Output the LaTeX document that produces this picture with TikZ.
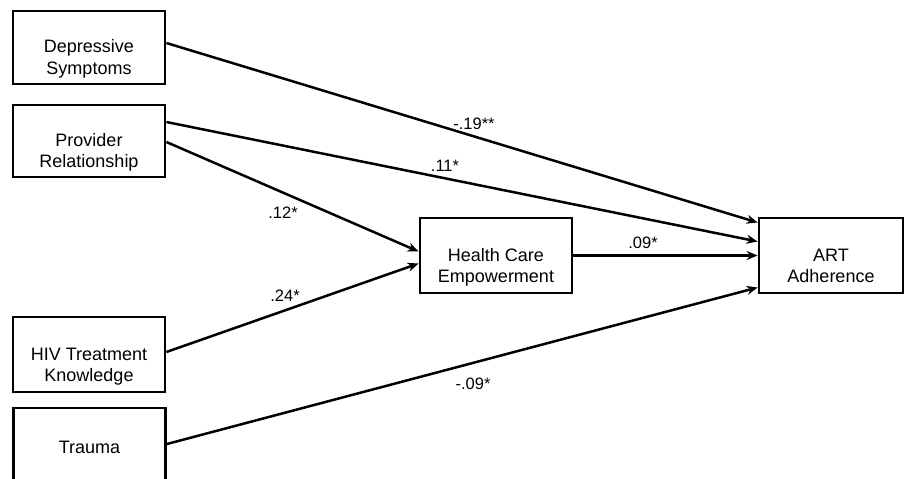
\documentclass[tikz,border=0pt]{standalone}
\usepackage{fontspec}
\setmainfont{Liberation Sans}
\usetikzlibrary{arrows.meta,positioning}

\begin{document}
\begin{tikzpicture}[
    x=1pt, y=-1pt,
    every node/.style={font=\fontsize{18}{21}\selectfont},
    box/.style={rectangle, draw, line width=2.8pt, align=center, minimum width=152pt, minimum height=74pt, inner sep=0pt},
    twoline/.style={text height=53pt, text depth=0pt},
    arrow/.style={-{Stealth[length=11pt,width=9pt]}, line width=2.5pt},
    coef/.style={inner sep=1pt, font=\fontsize{16.5}{18}\selectfont}
]
\useasboundingbox (0,0) rectangle (906,479);

% Predictors
\node[box, twoline, minimum height=73pt] (depress) at (89,47.5) {Depressive\\Symptoms};
\node[box, twoline, minimum height=72pt] (provider) at (89,141) {Provider\\Relationship};
\node[box, twoline, minimum height=75pt] (knowledge) at (89,354.5) {HIV Treatment\\Knowledge};
\node[box, minimum height=78pt] (trauma) at (89.5,447) {Trauma};

% Mediator and outcome
\node[box, twoline, minimum height=75pt] (empower) at (496,255.5) {Health Care\\Empowerment};
\node[box, twoline, minimum width=144pt, minimum height=75pt] (adherence) at (831,255.5) {ART\\Adherence};

% Paths
\draw[arrow] ([yshift=4.5pt]depress.east) -- ([yshift=33pt]adherence.west);
\draw[arrow] ([yshift=19pt]provider.east) -- ([yshift=14pt]adherence.west);
\draw[arrow] ([yshift=-1pt]provider.east) -- ([yshift=4pt]empower.west);
\draw[arrow] ([yshift=2.5pt]knowledge.east) -- ([yshift=-8pt]empower.west);
\draw[arrow] (empower.east) -- (adherence.west);
\draw[arrow] ([yshift=3pt]trauma.east) -- ([yshift=-32pt]adherence.west);

% Coefficients
\node[coef] (c_depress) at (474,124) {-.19**};
\node[coef] (c_provart) at (445,166) {.11*};
\node[coef] (c_provemp) at (283,213) {.12*};
\node[coef] (c_know) at (285,296) {.24*};
\node[coef] (c_emp) at (643,243) {.09*};
\node[coef] (c_trauma) at (473,384) {-.09*};

\end{tikzpicture}
\end{document}
